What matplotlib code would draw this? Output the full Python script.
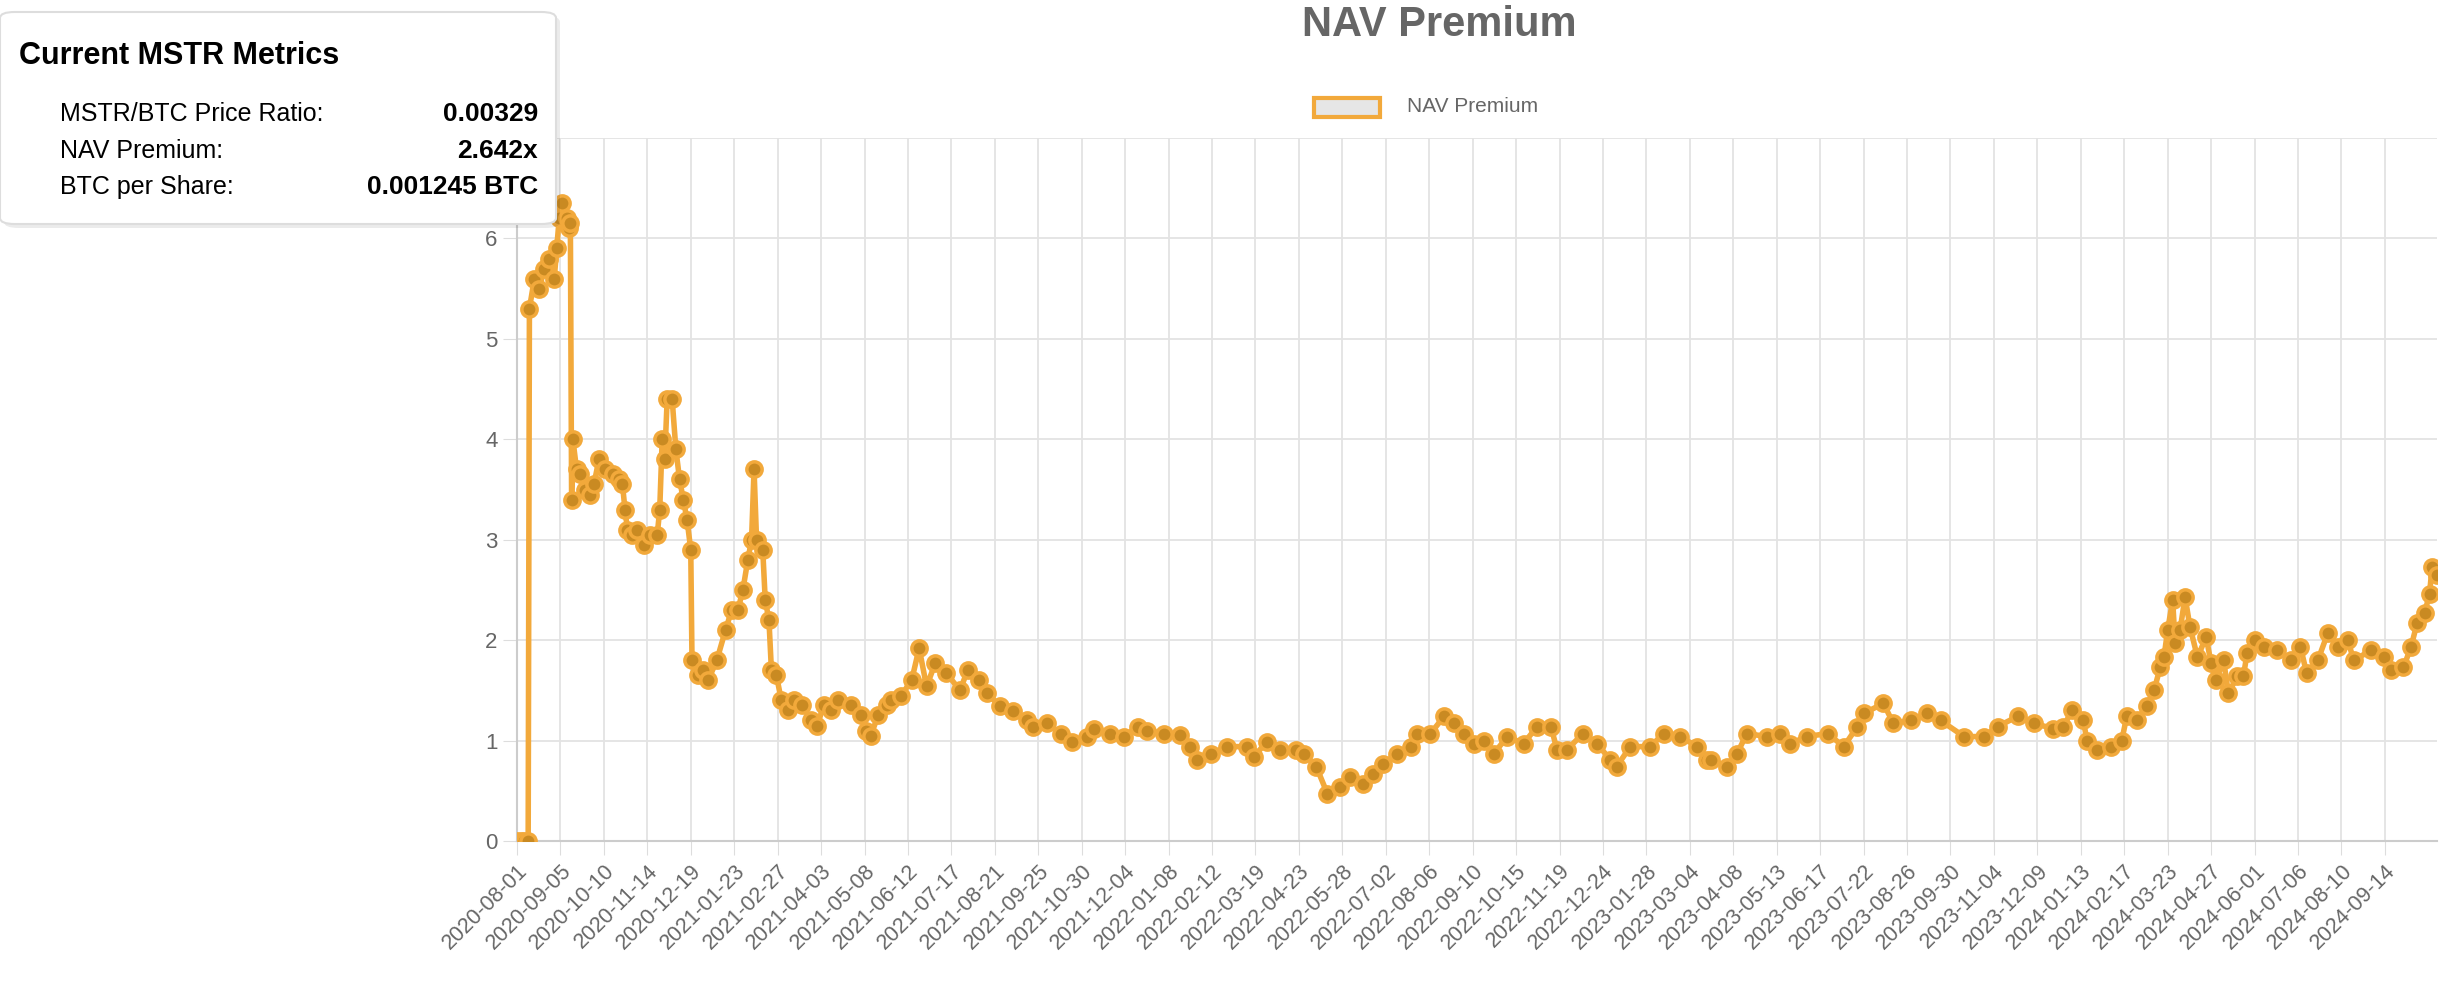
import matplotlib
matplotlib.use("Agg")
import matplotlib.pyplot as plt
from matplotlib.patches import FancyBboxPatch, Rectangle
import pandas as pd

plt.rcParams['font.family'] = ['Liberation Sans', 'DejaVu Sans']

start_date = "2020-08-01"
day_offsets = [0, 3, 6, 9, 10, 14, 18, 22, 26, 30, 32, 34, 36, 40, 42, 43, 44, 45, 48, 51, 55, 59, 62, 66, 71, 77, 82, 85, 87, 89, 93, 97,
               102, 107, 113, 115, 117, 119, 121, 125, 128, 131, 134, 137, 140, 141, 146, 150, 154, 161, 168, 173, 178, 182,
               186, 189, 191, 193, 198, 200, 203, 205, 209, 213, 218, 223, 230, 237, 242, 247, 253, 259, 269, 277, 281, 285,
               291, 298, 301, 309, 318, 324, 330, 337, 346, 357, 363, 372, 379, 389, 400, 411, 416, 427, 438, 447, 459, 465,
               478, 489, 500, 508, 521, 534, 542, 548, 559, 572, 588, 594, 604, 615, 628, 634, 644, 653, 663, 671, 682, 690,
               698, 709, 720, 725, 736, 747, 755, 763, 771, 779, 787, 798, 811, 822, 833, 838, 846, 859, 870, 881, 886, 897,
               913, 924, 937, 951, 959, 962, 975, 983, 991, 1007, 1018, 1026, 1039, 1056, 1069, 1080, 1085, 1101, 1109, 1123,
               1136, 1147, 1166, 1182, 1193, 1209, 1222, 1238, 1246, 1253, 1262, 1265, 1273, 1284, 1293, 1297, 1305, 1313,
               1319, 1324, 1327, 1330, 1334, 1336, 1340, 1344, 1348, 1354, 1361, 1365, 1369, 1375, 1379, 1386, 1391, 1394,
               1400, 1408, 1418, 1429, 1437, 1442, 1451, 1459, 1467, 1475, 1480, 1494, 1504, 1510, 1520, 1526, 1531, 1537,
               1541, 1543, 1547]
nav_premium = [0, 0, 0, 0, 5.3, 5.6, 5.5, 5.7, 5.8, 5.6, 5.9, 6.2, 6.35, 6.2, 6.1, 6.15, 3.4, 4.0, 3.7, 3.65, 3.5, 3.45, 3.55, 3.8, 3.7, 3.65, 3.6, 3.55, 3.3, 3.1, 3.05, 3.1,
               2.95, 3.05, 3.05, 3.3, 4.0, 3.8, 4.4, 4.4, 3.9, 3.6, 3.4, 3.2, 2.9, 1.8, 1.65, 1.7, 1.6, 1.8, 2.1, 2.3, 2.3, 2.5,
               2.8, 3.0, 3.7, 3.0, 2.9, 2.4, 2.2, 1.7, 1.65, 1.4, 1.3, 1.4, 1.35, 1.2, 1.15, 1.35, 1.3, 1.4, 1.35, 1.25, 1.1, 1.05,
               1.25, 1.35, 1.4, 1.44, 1.6, 1.92, 1.54, 1.77, 1.67, 1.5, 1.7, 1.6, 1.47, 1.34, 1.29, 1.2, 1.14, 1.17, 1.07, 0.99, 1.04, 1.12,
               1.07, 1.04, 1.14, 1.1, 1.07, 1.06, 0.94, 0.81, 0.87, 0.94, 0.94, 0.84, 0.99, 0.91, 0.91, 0.87, 0.74, 0.47, 0.54, 0.64, 0.57, 0.67,
               0.77, 0.87, 0.94, 1.07, 1.07, 1.24, 1.17, 1.07, 0.97, 1.0, 0.87, 1.04, 0.97, 1.14, 1.14, 0.91, 0.91, 1.07, 0.97, 0.81, 0.74, 0.94,
               0.94, 1.07, 1.04, 0.94, 0.81, 0.81, 0.74, 0.87, 1.07, 1.04, 1.07, 0.97, 1.04, 1.07, 0.94, 1.14, 1.27, 1.37, 1.17, 1.2,
               1.27, 1.2, 1.04, 1.04, 1.14, 1.24, 1.17, 1.12, 1.14, 1.3, 1.2, 1.0, 0.91, 0.94, 1.0, 1.24, 1.2, 1.34,
               1.5, 1.73, 1.83, 2.1, 2.4, 1.97, 2.1, 2.43, 2.13, 1.83, 2.03, 1.77, 1.6, 1.8, 1.47, 1.64, 1.64, 1.87,
               2.0, 1.93, 1.9, 1.8, 1.93, 1.67, 1.8, 2.07, 1.93, 2.0, 1.8, 1.9, 1.83, 1.7, 1.73, 1.93, 2.17, 2.27,
               2.46, 2.73, 2.65]

tick_step_days = 35
tick_count = 44
tick_labels = [d.strftime("%Y-%m-%d") for d in pd.date_range(start_date, periods=tick_count, freq=f"{tick_step_days}D")]
tick_positions = [i * tick_step_days for i in range(tick_count)]

metric_labels = ["MSTR/BTC Price Ratio:", "NAV Premium:", "BTC per Share:"]
metric_values = ["0.00329", "2.642x", "0.001245 BTC"]

W, H = 2458, 996
fig = plt.figure(figsize=(W / 100, H / 100), dpi=100)
ax = fig.add_axes([517 / W, 1 - 841 / H, (2437 - 517) / W, (841 - 138) / H])

orange = "#f2a93b"
ax.plot(day_offsets, nav_premium, color=orange, lw=4, zorder=3,
        marker="o", ms=11, mfc="#c98a22", mec=orange, mew=2.5)

ax.set_xlim(0, 1547)
ax.set_ylim(0, 7)
ax.set_yticks(range(0, 8))
ax.set_xticks(tick_positions)
ax.set_xticklabels(tick_labels, rotation=45, ha="right", rotation_mode="anchor")
ax.tick_params(axis="x", length=10, color="#dddddd", labelsize=15.5, labelcolor="#666666", pad=4)
ax.tick_params(axis="y", length=10, color="#dddddd", labelsize=16, labelcolor="#666666", pad=4)
ax.grid(True, color="#e3e3e3", lw=1.3)
ax.set_axisbelow(True)
for s in ["top", "right"]:
    ax.spines[s].set_visible(False)
for s in ["left", "bottom"]:
    ax.spines[s].set_color("#cccccc")
    ax.spines[s].set_linewidth(1.5)

fig.text(1439 / W, 1 - 25 / H, "NAV Premium", ha="center", va="center",
         fontsize=30, fontweight="bold", color="#666666")
# legend
fig.patches.append(Rectangle((1314 / W, 1 - 117 / H), 66 / W, 19 / H, transform=fig.transFigure,
                             facecolor="#e6e6e6", edgecolor=orange, lw=3))
fig.text(1407 / W, 1 - 107 / H, "NAV Premium", ha="left", va="center", fontsize=15, color="#666666")

# info box
shadow = FancyBboxPatch((4 / W, 1 - 228 / H), 556 / W, 212 / H, boxstyle="round,pad=0,rounding_size=0.006",
                        transform=fig.transFigure, facecolor="#00000014", edgecolor="none", zorder=9)
box = FancyBboxPatch((0 / W, 1 - 224 / H), 556 / W, 212 / H, boxstyle="round,pad=0,rounding_size=0.006",
                     transform=fig.transFigure, facecolor="white", edgecolor="#dddddd", lw=1.5, zorder=10)
fig.patches.extend([shadow, box])
fig.text(19 / W, 1 - 56 / H, "Current MSTR Metrics", ha="left", va="center", fontsize=22,
         fontweight="bold", color="black", zorder=11)
for i, (lab, val) in enumerate(zip(metric_labels, metric_values)):
    y = 1 - (114 + i * 36.5) / H
    fig.text(60 / W, y, lab, ha="left", va="center", fontsize=18, color="black", zorder=11)
    fig.text(538 / W, y, val, ha="right", va="center", fontsize=19, fontweight="bold", color="black", zorder=11)

fig.savefig("out.png", dpi=100)
